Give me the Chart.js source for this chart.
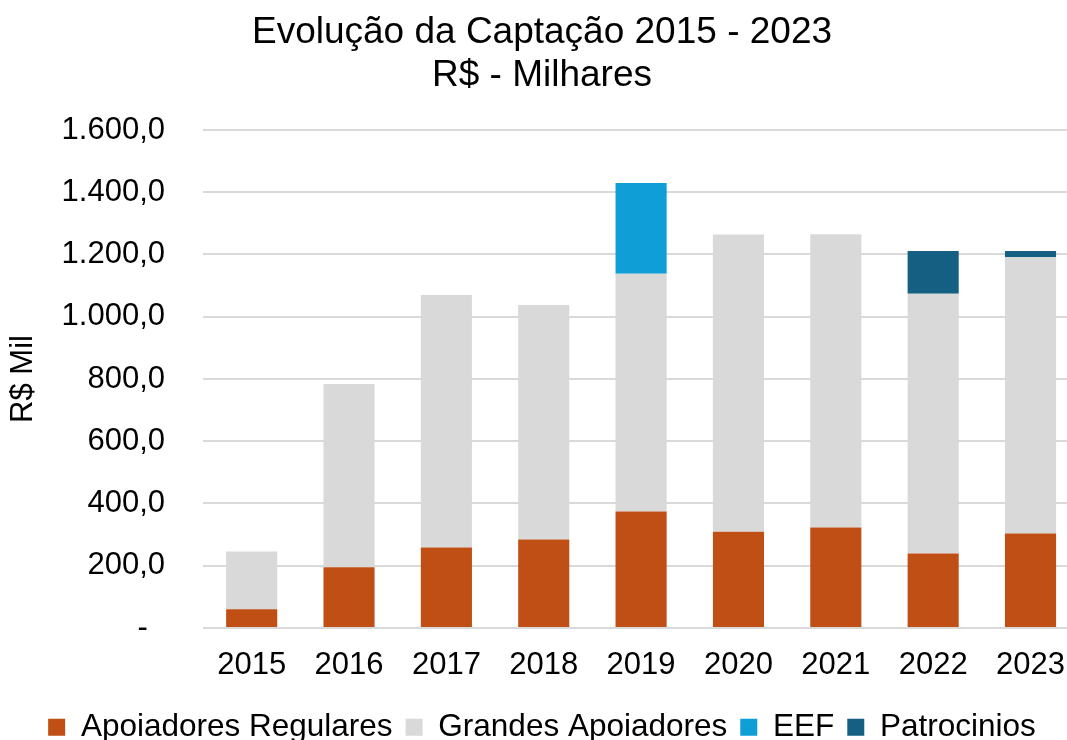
<!DOCTYPE html>
<html>
<head>
<meta charset="utf-8">
<script src="https://cdn.jsdelivr.net/npm/chart.js@4/dist/chart.umd.min.js"></script>
<style>
  html, body { margin: 0; padding: 0; overflow: hidden; background: #ffffff; }
  #wrap { position: absolute; left: 0; top: 0; width: 1084px; height: 753px; }
</style>
</head>
<body>
<div id="wrap"><canvas id="chart"></canvas></div>
<script>
const categories = ['2015', '2016', '2017', '2018', '2019', '2020', '2021', '2022', '2023'];
const apoiadoresRegulares = [60, 195, 259, 284, 374, 309, 323, 239, 304];
const grandesApoiadores = [186, 589, 811, 754, 764, 955, 942, 835, 887];
const eef = [null, null, null, null, 292, null, null, null, null];
const patrocinios = [null, null, null, null, null, null, null, 137, 20];
const yTickLabels = ['-  ', '200,0', '400,0', '600,0', '800,0', '1.000,0', '1.200,0', '1.400,0', '1.600,0'];
const seriesNames = ['Apoiadores Regulares', 'Grandes Apoiadores', 'EEF', 'Patrocinios'];
const titleLines = ['Evolução da Captação 2015 - 2023', 'R$ - Milhares'];

const FONT = "'Liberation Sans', Arial, sans-serif";

new Chart(document.getElementById('chart'), {
  type: 'bar',
  data: {
    labels: categories,
    datasets: [
      { label: seriesNames[0], data: apoiadoresRegulares, backgroundColor: '#C04F15' },
      { label: seriesNames[1], data: grandesApoiadores, backgroundColor: '#D9D9D9' },
      { label: seriesNames[2], data: eef, backgroundColor: '#0F9ED5' },
      { label: seriesNames[3], data: patrocinios, backgroundColor: '#156082' }
    ]
  },
  options: {
    responsive: true,
    maintainAspectRatio: false,
    animation: false,
    devicePixelRatio: 1,
    layout: { padding: 0 },
    datasets: { bar: { barPercentage: 0.525, categoryPercentage: 1.0, borderWidth: 0 } },
    plugins: {
      tooltip: { enabled: false },
      title: {
        display: true,
        text: titleLines,
        color: '#000000',
        font: { family: FONT, size: 37, weight: 'normal', lineHeight: 1.162 },
        padding: { top: 11.5, bottom: 32.5 }
      },
      legend: {
        position: 'bottom',
        align: 'center',
        labels: {
          color: '#000000',
          boxWidth: 17,
          boxHeight: 17,
          padding: 13,
          font: { family: FONT, size: 31.5 }
        }
      }
    },
    scales: {
      x: {
        stacked: true,
        grid: { display: false, drawTicks: false },
        border: { display: false },
        ticks: { color: '#000000', padding: 19, maxRotation: 0, font: { family: FONT, size: 31 } },
        afterFit: (s) => { s.height = 70.5; }
      },
      y: {
        stacked: true,
        min: 0,
        max: 1600,
        grid: { color: '#D9D9D9', lineWidth: 2, drawTicks: false },
        border: { display: false },
        ticks: {
          stepSize: 200,
          padding: 38,
          color: '#000000',
          font: { family: FONT, size: 31 },
          callback: (v, i) => yTickLabels[i]
        },
        title: {
          display: true,
          text: 'R$ Mil',
          color: '#000000',
          font: { family: FONT, size: 31 },
          padding: { top: 5, bottom: 0 }
        },
        afterFit: (s) => { s.width = 203; }
      }
    }
  }
});
</script>
</body>
</html>
